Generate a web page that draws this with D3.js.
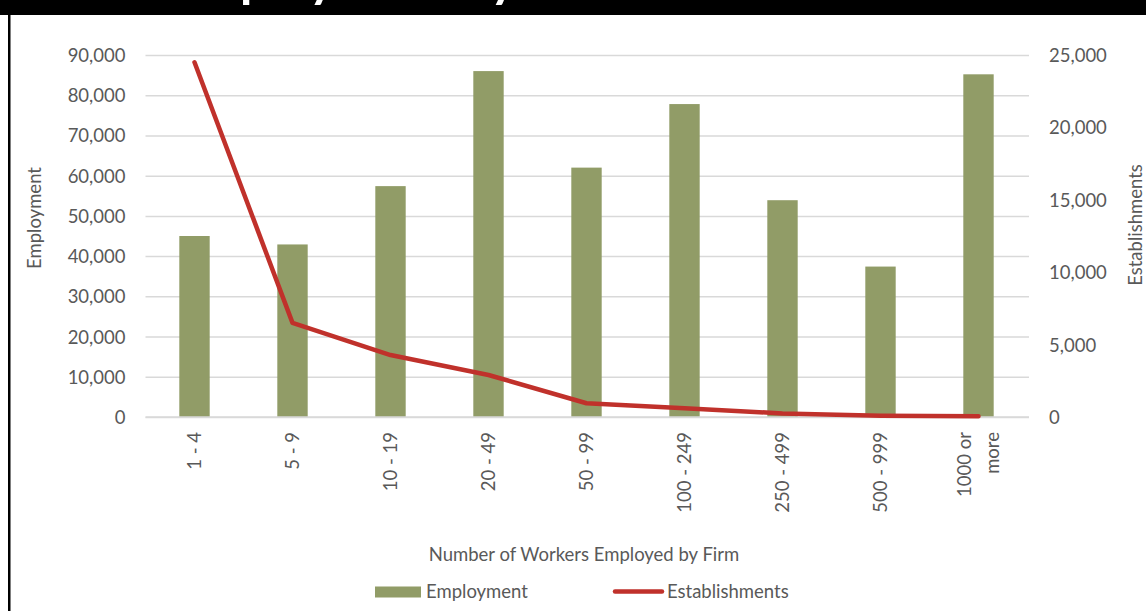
<!DOCTYPE html>
<html>
<head>
<meta charset="utf-8">
<script src="https://cdn.jsdelivr.net/npm/d3@7"></script>
<style>
  html, body { margin: 0; padding: 0; background: #fff; }
  svg { display: block; font-family: Lato, "Open Sans", "DejaVu Sans", sans-serif; }
</style>
</head>
<body>
<script>
// Firm-size categories and the two series drawn against them
const categories = ["1 - 4", "5 - 9", "10 - 19", "20 - 49", "50 - 99", "100 - 249", "250 - 499", "500 - 999", "1000 or more"];
const employment = [45000, 42900, 57400, 86000, 62000, 77800, 53900, 37400, 85200];
const establishments = [24500, 6500, 4280, 2900, 950, 600, 250, 90, 50];
const leftTicks = [0, 10000, 20000, 30000, 40000, 50000, 60000, 70000, 80000, 90000];
const rightTicks = [0, 5000, 10000, 15000, 20000, 25000];

const W = 1146, H = 611;
const plot = { left: 145.5, right: 1027.5, top: 55, bottom: 417 };
const textColor = "#595959";
const barColor = "#919c67";
const lineColor = "#c0312b";
const gridColor = "#d9d9d9";
const fontSize = 18.5;

const svg = d3.select("body").append("svg").attr("width", W).attr("height", H);

// Frame: black heading band and left rule
svg.append("rect").attr("x", 0).attr("y", 0).attr("width", W).attr("height", 15).attr("fill", "#000");
svg.append("rect").attr("x", 8).attr("y", 0).attr("width", 2.5).attr("height", H).attr("fill", "#000");
svg.append("text")
  .attr("x", 170).attr("y", -3)
  .attr("fill", "#fff").attr("font-weight", "bold").attr("font-size", 50)
  .text("Employment by Firm Size");

const x = d3.scaleBand().domain(categories).range([plot.left, plot.right]).padding(0);
const yL = d3.scaleLinear().domain([0, 90000]).range([plot.bottom, plot.top]);
const yR = d3.scaleLinear().domain([0, 25000]).range([plot.bottom, plot.top]);
const fmt = d3.format(",");

// Horizontal gridlines + left axis labels
const leftAxis = d3.axisLeft(yL).tickValues(leftTicks).tickFormat(fmt)
  .tickSize(-(plot.right - plot.left + 1.5)).tickPadding(20);
const gL = svg.append("g").attr("transform", `translate(${plot.left},0)`).call(leftAxis);
gL.select(".domain").remove();
gL.selectAll(".tick line").attr("stroke", gridColor).attr("stroke-width", 1.5);
gL.selectAll(".tick text").attr("fill", textColor).attr("font-size", fontSize)
  .attr("font-family", "Lato, sans-serif").attr("dy", "0.35em");

// Right axis labels
const rightAxis = d3.axisRight(yR).tickValues(rightTicks).tickFormat(fmt).tickSize(0).tickPadding(0);
const gR = svg.append("g").attr("transform", `translate(1049,0)`).call(rightAxis);
gR.select(".domain").remove();
gR.selectAll(".tick text").attr("fill", textColor).attr("font-size", fontSize)
  .attr("font-family", "Lato, sans-serif").attr("dy", "0.35em");

// Bars
const barW = x.bandwidth() * 0.31;
svg.append("g").selectAll("rect").data(employment).join("rect")
  .attr("x", (d, i) => x(categories[i]) + x.bandwidth() / 2 - barW / 2)
  .attr("width", barW)
  .attr("y", d => yL(d))
  .attr("height", d => yL(0) - yL(d))
  .attr("fill", barColor);

// Baseline
svg.append("line").attr("x1", plot.left).attr("x2", plot.right + 1.5)
  .attr("y1", plot.bottom).attr("y2", plot.bottom)
  .attr("stroke", gridColor).attr("stroke-width", 1.5);

// Establishments line
const line = d3.line()
  .x((d, i) => x(categories[i]) + x.bandwidth() / 2)
  .y(d => yR(d));
svg.append("path").datum(establishments)
  .attr("d", line).attr("fill", "none")
  .attr("stroke", lineColor).attr("stroke-width", 4.5)
  .attr("stroke-linecap", "round").attr("stroke-linejoin", "round");

// Category labels (rotated)
const xl = svg.append("g");
categories.forEach(c => {
  const cx = x(c) + x.bandwidth() / 2;
  const parts = c === "1000 or more" ? ["1000 or", "more"] : [c];
  const offsets = parts.length === 2 ? [-8, 20] : [6];
  parts.forEach((p, k) => {
    xl.append("text")
      .attr("transform", `translate(${cx + offsets[k]},432) rotate(-90)`)
      .attr("text-anchor", "end")
      .attr("fill", textColor).attr("font-size", fontSize)
      .text(p);
  });
});

// Axis titles
svg.append("text").attr("transform", "translate(41,218) rotate(-90)")
  .attr("text-anchor", "middle").attr("fill", textColor).attr("font-size", fontSize)
  .text("Employment");
svg.append("text").attr("transform", "translate(1142,225) rotate(-90)")
  .attr("text-anchor", "middle").attr("fill", textColor).attr("font-size", fontSize)
  .text("Establishments");
svg.append("text").attr("x", 584).attr("y", 561)
  .attr("text-anchor", "middle").attr("fill", textColor).attr("font-size", fontSize)
  .text("Number of Workers Employed by Firm");

// Legend
const lg = svg.append("g");
lg.append("rect").attr("x", 375).attr("y", 586.5).attr("width", 46).attr("height", 11).attr("fill", barColor);
lg.append("text").attr("x", 426).attr("y", 598).attr("fill", textColor).attr("font-size", fontSize).text("Employment");
lg.append("line").attr("x1", 615).attr("x2", 662).attr("y1", 591.5).attr("y2", 591.5)
  .attr("stroke", lineColor).attr("stroke-width", 4.5).attr("stroke-linecap", "round");
lg.append("text").attr("x", 667).attr("y", 598).attr("fill", textColor).attr("font-size", fontSize).text("Establishments");
</script>
</body>
</html>
